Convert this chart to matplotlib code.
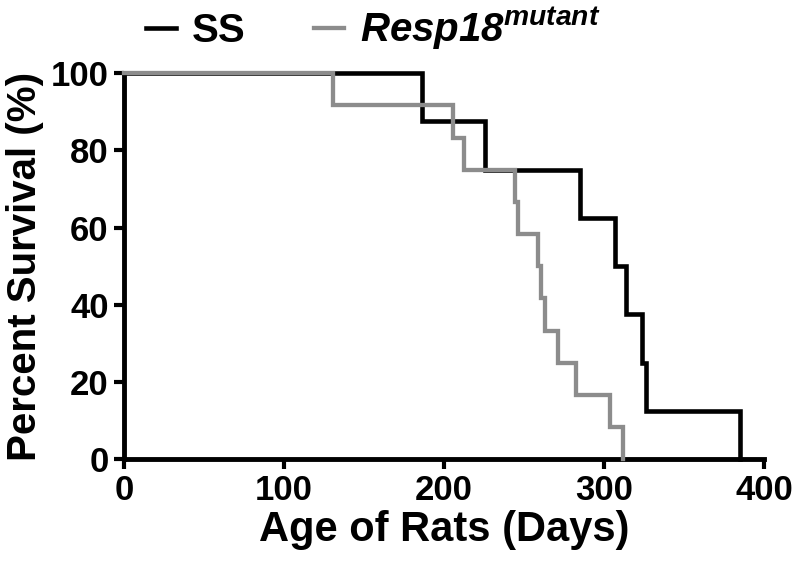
import matplotlib
matplotlib.use("Agg")
import matplotlib.pyplot as plt

# Kaplan-Meier steps
ss_days = [0, 186, 225.5, 285, 307, 314, 324, 326, 385]
ss_surv = [100, 87.5, 75, 62.5, 50, 37.5, 25, 12.5, 0]

mut_days = [0, 130.5, 205.5, 212.5, 244.5, 246, 259, 260.5, 263, 271, 282.5, 304, 312]
mut_surv = [100, 91.7, 83.3, 75, 66.7, 58.3, 50, 41.7, 33.3, 25, 16.7, 8.3, 0]

x_ticks = [0, 100, 200, 300, 400]
y_ticks = [0, 20, 40, 60, 80, 100]

plt.rcParams['mathtext.fontset'] = 'custom'
plt.rcParams['mathtext.it'] = 'Liberation Sans:italic:bold'
plt.rcParams['mathtext.rm'] = 'Liberation Sans:italic:bold'
plt.rcParams['mathtext.bf'] = 'Liberation Sans:italic:bold'
plt.rcParams['font.family'] = 'Liberation Sans'

fig = plt.figure(figsize=(8, 5.75), dpi=100)
ax = fig.add_axes([0.155, 0.2017, 0.80, 0.671])

l1, = ax.step(ss_days, ss_surv, where='post', color='black', lw=3.3,
              clip_on=False, zorder=3, solid_joinstyle='miter')
l2, = ax.step(mut_days, mut_surv, where='post', color='#8c8c8c', lw=3.1,
              clip_on=False, zorder=4, solid_joinstyle='miter')

ax.set_xlim(0, 400)
ax.set_ylim(0, 100)
ax.set_xticks(x_ticks)
ax.set_yticks(y_ticks)

for s in ['top', 'right']:
    ax.spines[s].set_visible(False)
for s in ['left', 'bottom']:
    ax.spines[s].set_linewidth(3.5)
ax.tick_params(width=3, length=7, direction='out', pad=4)

for lab in ax.get_xticklabels() + ax.get_yticklabels():
    lab.set_fontweight('bold')
    lab.set_fontsize(25)

ax.set_xlabel('Age of Rats (Days)', fontsize=30, fontweight='bold', labelpad=2)
ax.set_ylabel('Percent Survival (%)', fontsize=29, fontweight='bold', labelpad=5)

fig.legend([l1, l2], ['SS', r'$Resp18^{mutant}$'],
           loc='upper left', bbox_to_anchor=(0.182, 0.99), ncol=2,
           frameon=False, handlelength=0.75, handletextpad=0.4,
           columnspacing=1.7, borderpad=0, borderaxespad=0,
           prop={'weight': 'bold', 'size': 29})

fig.savefig('out.png', dpi=100)
